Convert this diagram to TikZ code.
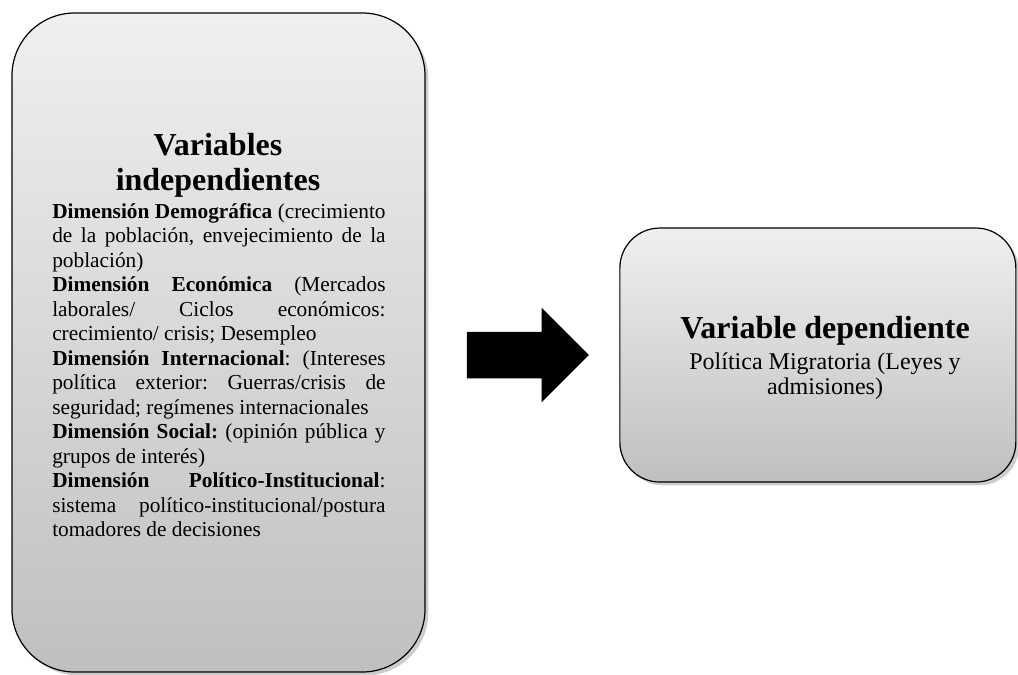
\documentclass[tikz,border=0pt]{standalone}
\usepackage{fontspec}
\setmainfont{Liberation Serif}
\usetikzlibrary{positioning,shadows,shapes.arrows}
\frenchspacing

\begin{document}
\begin{tikzpicture}[x=0.75pt,y=-0.75pt,
varbox/.style={draw=black, line width=0.9pt, top color=black!6, bottom color=black!25,
  drop shadow={shadow xshift=2.5pt, shadow yshift=-2.5pt, opacity=0.4, fill=black!50}},
bigarrow/.style={single arrow, fill=black, draw=none, minimum height=91.5pt,
  single arrow head extend=18pt, inner xsep=0pt, inner ysep=17.25pt},
titletext/.style={font=\fontsize{24}{26.25}\selectfont\bfseries, align=center, inner sep=0pt},
bodytext/.style={font=\fontsize{16}{18.4}\selectfont, inner sep=0pt},
]
\useasboundingbox (0,0) rectangle (1018,675);
%Nodes
\node[varbox, rounded corners=47pt, minimum width=309.75pt, minimum height=494.25pt] (indep) at (218.5,342.5) {};
\node[bigarrow]    (flow) [right=30.75pt of indep, yshift=-9.4pt] {};
\node[varbox, rounded corners=30pt, minimum width=297pt, minimum height=190.5pt] (dep) [right=22.5pt of flow] {};
%Texts
\node[titletext, anchor=base] (indeptitle) at (218,190) {Variables\\independientes};
\node[bodytext, text width=250pt, align=justify, anchor=base west] (indeptext) at (52,218) {%
\hyphenpenalty=10000 \exhyphenpenalty=10000
\textbf{Dimensión Demográfica} (crecimiento\linebreak de la población, envejecimiento de la\linebreak población)\par
\textbf{Dimensión Económica} (Mercados\linebreak laborales/ Ciclos económicos:\linebreak crecimiento/ crisis; Desempleo\par
\textbf{Dimensión Internacional}: (Intereses\linebreak política exterior: Guerras/crisis de\linebreak seguridad; regímenes internacionales\par
\textbf{Dimensión Social:} (opinión pública y\linebreak grupos de interés)\par
\textbf{Dimensión Político-Institucional}:\linebreak sistema político-institucional/postura\linebreak tomadores de decisiones};
\node[titletext, anchor=base] (deptitle) at (825,338) {Variable dependiente};
\node[font=\fontsize{18}{18.75}\selectfont, align=center, inner sep=0pt, anchor=base] (deptext) at (825,394) {Política Migratoria (Leyes y\\admisiones)};
\end{tikzpicture}
\end{document}
